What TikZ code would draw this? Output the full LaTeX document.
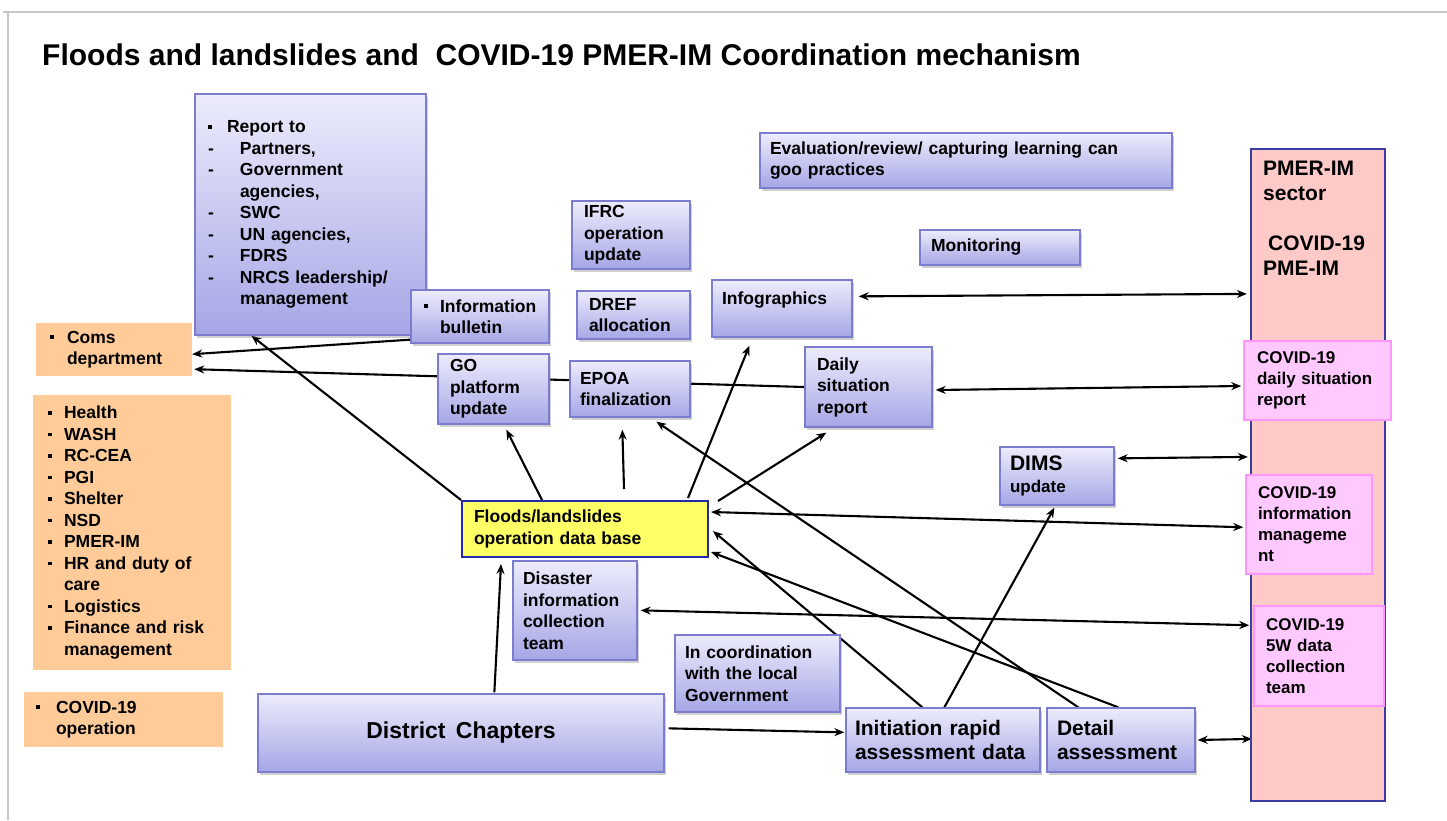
\documentclass[tikz,border=0pt]{standalone}
\usepackage{fontspec}
\setmainfont{Liberation Sans}
\usetikzlibrary{arrows.meta,shadows,calc}
\pgfdeclarelayer{bg}
\pgfsetlayers{bg,main}
\definecolor{btop}{RGB}{236,236,252}
\definecolor{bbot}{RGB}{166,166,230}
\definecolor{bdraw}{RGB}{125,125,208}
\definecolor{orng}{RGB}{255,204,153}
\definecolor{yel}{RGB}{255,255,102}
\definecolor{ydraw}{RGB}{40,40,170}
\definecolor{colfill}{RGB}{253,202,200}
\definecolor{coldraw}{RGB}{60,60,165}
\definecolor{pinkf}{RGB}{255,200,255}
\definecolor{pinkd}{RGB}{255,150,255}
\definecolor{framegray}{RGB}{200,200,200}
\newcommand\mysq{\raisebox{4pt}{\rule{3.6pt}{3.6pt}}}
\newcommand\bl[1]{\makebox[#1pt][l]{\mysq}}
\newcommand\dsh{\makebox[32pt][l]{-}}
\tikzset{
 txt/.style={font=\bfseries\fontsize{17.5}{21.5}\selectfont, align=left, inner sep=0pt},
 wh/.style 2 args={minimum width=#1, minimum height=#2},
 bbox/.style={txt, draw=bdraw, line width=1.3pt, top color=btop, bottom color=bbot,
   drop shadow={shadow xshift=2pt, shadow yshift=-3pt, opacity=0.3, fill=black!60}},
 obox/.style={txt, fill=orng},
 pbox/.style={txt, fill=pinkf, draw=pinkd, line width=1.5pt, font=\bfseries\fontsize{17}{21}\selectfont},
 conn/.style={line width=2.1pt, -{Stealth[length=10pt,width=8pt]}},
 dconn/.style={line width=2.1pt, {Stealth[length=10pt,width=8pt]}-{Stealth[length=10pt,width=8pt]}},
}
\begin{document}
\begin{tikzpicture}[x=1pt,y=-1pt]
\useasboundingbox (0,0) rectangle (1447,820);
\begin{pgfonlayer}{bg}
\fill[white] (0,0) rectangle (1447,820);
\draw[framegray, line width=1.5pt] (3,12) -- (1447,12);
\draw[framegray, line width=1.5pt] (8,12) -- (8,820);
\end{pgfonlayer}

% title
\node[anchor=west, inner sep=0pt, font=\bfseries\fontsize{30}{34}\selectfont] (title) at (42,55)
  {Floods and landslides and\ \ COVID-19 PMER-IM Coordination mechanism};

% left orange boxes
\node[obox, wh={156}{53}, text width=128pt] (coms) at (114,349.5)
  {\bl{17}Coms\\\hspace*{17pt}department};
\node[obox, wh={198}{275}, text width=168pt] (olist) at (132,532.5)
  {\bl{16}Health\\\bl{16}WASH\\\bl{16}RC-CEA\\\bl{16}PGI\\\bl{16}Shelter\\\bl{16}NSD\\\bl{16}PMER-IM\\
   \bl{16}HR and duty of\\\hspace*{16pt}care\\\bl{16}Logistics\\\bl{16}Finance and risk\\\hspace*{16pt}management};
\node[obox, wh={199}{55}, text width=175pt] (covop) at (123.5,719.5)
  {\bl{20}COVID-19\\\hspace*{20pt}operation};

% blue boxes
\node[bbox, wh={231}{241}, text width=205pt] (report) at (310.5,214.5)
  {\bl{19}Report to\\\dsh Partners,\\\dsh Government\\\hspace*{32pt}agencies,\\\dsh SWC\\
   \dsh UN agencies,\\\dsh FDRS\\\dsh NRCS leadership/\\\hspace*{32pt}management};
\node[bbox, wh={138}{53}, text width=112pt] (bulletin) at (480,316.5)
  {\bl{16}Information\\\hspace*{16pt}bulletin};
\node[bbox, wh={118}{68}, text width=94pt] (ifrc) at (631,235) {IFRC\\operation\\update};
\node[bbox, wh={113}{48}, text width=89pt] (dref) at (633.5,315) {DREF\\allocation};
\node[bbox, wh={140}{57}, text width=120pt] (infog) at (782,308.5) {Infographics\\\mbox{}};
\node[bbox, wh={412}{55}, text width=392pt] (eval) at (966,160.5)
  {Evaluation/review/ capturing learning can\\goo practices};
\node[bbox, wh={160}{35}, text width=138pt] (monit) at (1000,247.5) {Monitoring};
\node[bbox, wh={111}{70}, text width=87pt] (go) at (493.5,389) {GO\\platform\\update};
\node[bbox, wh={120}{56}, text width=100pt] (epoa) at (630,389) {EPOA\\finalization};
\node[bbox, wh={127}{80}, text width=103pt] (daily) at (868.5,387) {Daily\\situation\\report};
\node[bbox, wh={114}{58}, text width=94pt] (dims) at (1057,476)
  {{\fontsize{21}{24}\selectfont DIMS}\\{\fontsize{17}{20}\selectfont update}};
\node[txt, draw=ydraw, fill=yel, line width=2pt, wh={246}{56}, text width=222pt] (yellow) at (585,529)
  {Floods/landslides\\operation data base};
\node[bbox, wh={124}{99}, text width=104pt] (disaster) at (575,610.5)
  {Disaster\\information\\collection\\team};
\node[bbox, wh={165}{77}, text width=145pt] (coord) at (757.5,673.5)
  {In coordination\\with the local\\Government};
\node[bbox, wh={406}{78}, align=center, font=\bfseries\fontsize{23}{27}\selectfont] (district) at (461,733)
  {District\hspace{0.45em}Chapters};
\node[bbox, wh={194}{64}, text width=176pt, font=\bfseries\fontsize{21}{24}\selectfont] (init) at (943,740)
  {Initiation rapid\\assessment data};
\node[bbox, wh={148}{64}, text width=128pt, font=\bfseries\fontsize{21}{24}\selectfont] (detail) at (1121,740)
  {Detail\\assessment};

% right column
\node[draw=coldraw, fill=colfill, line width=2.2pt, wh={134}{652}] (column) at (1318,475) {};
\node[txt, anchor=north west, font=\bfseries\fontsize{21}{25}\selectfont] (coltitle) at (1263,161)
  {PMER-IM\\sector\\\mbox{}\\\hspace*{5pt}COVID-19\\PME-IM};
\node[pbox, wh={147}{79}, text width=121pt] (pinkdaily) at (1317.5,380.5)
  {COVID-19\\daily situation\\report};
\node[pbox, wh={126}{99}, text width=102pt] (pinkinfo) at (1309,524.5)
  {COVID-19\\information\\manageme\\nt};
\node[pbox, wh={130}{100}, text width=106pt] (pink5w) at (1319,656)
  {COVID-19\\5W data\\collection\\team};

\begin{pgfonlayer}{bg}
\draw[conn] (yellow.north west) -- ($(report.south west)+(57,0)$);
\draw[conn] ($(bulletin.south west)+(0,-4)$) -- ($(coms.south east)+(0,-22)$);
\draw[conn] (daily.west) -- ($(coms.south east)+(2,-7)$);
\draw[conn] ($(yellow.north west)+(81,0)$) -- ($(go.south west)+(69,5)$);
\draw[conn] ($(yellow.north west)+(163,-11)$) -- ($(epoa.south west)+(53,12)$);
\draw[conn] ($(yellow.north west)+(227,-2)$) -- ($(infog.south west)+(38,8)$);
\draw[conn] ($(yellow.north east)+(9,1)$) -- ($(daily.south west)+(22,5)$);
\draw[conn] ($(detail.north west)+(32,0)$) -- ($(epoa.south west)+(87,4)$);
\draw[conn] ($(detail.north west)+(72,0)$) -- ($(yellow.south east)+(2,-6)$);
\draw[conn] ($(init.north west)+(77,0)$) -- ($(yellow.north east)+(4,31)$);
\draw[conn] ($(init.north west)+(99,0)$) -- ($(dims.south west)+(55,2)$);
\draw[dconn] ($(yellow.north east)+(2,12)$) -- ($(pinkinfo.north west)+(-2,53)$);
\draw[dconn] ($(disaster.north east)+(3,50)$) -- ($(pink5w.north west)+(-4,20)$);
\draw[conn] ($(district.north west)+(237,-1)$) -- ($(yellow.south west)+(40,6)$);
\draw[conn] ($(district.north east)+(4,35)$) -- ($(init.north west)+(-1,25)$);
\draw[dconn] ($(detail.east)+(2,0)$) -- ($(column.north west)+(2,591)$);
\draw[dconn] ($(dims.north east)+(3,12)$) -- ($(column.north west)+(-2,309)$);
\draw[dconn] ($(daily.east)+(3,3)$) -- ($(pinkdaily.west)+(-2,5.5)$);
\draw[dconn] ($(infog.north east)+(6,17)$) -- ($(column.north west)+(-3,146)$);
\end{pgfonlayer}
\end{tikzpicture}
\end{document}
